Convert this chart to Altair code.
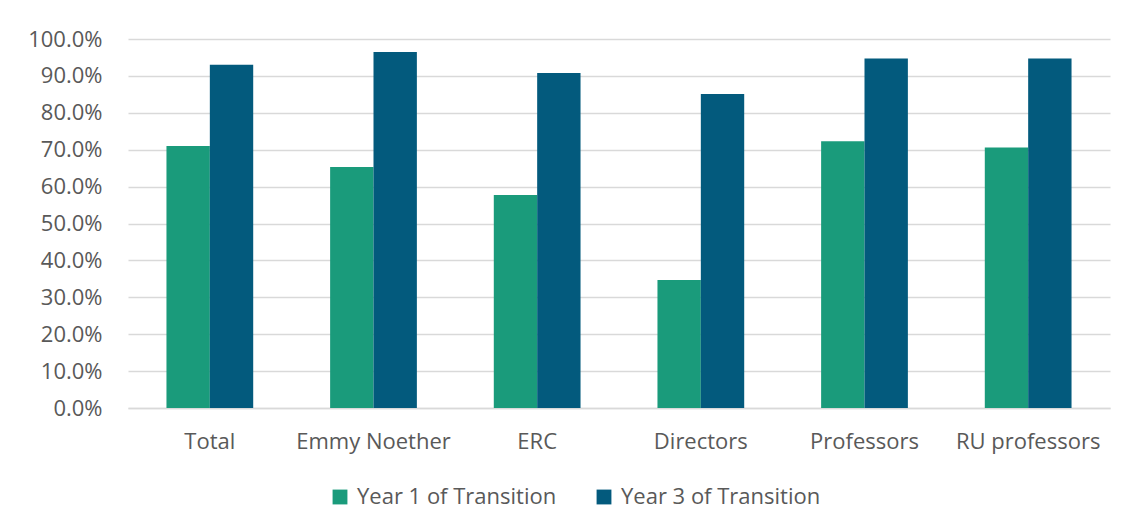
import altair as alt
import pandas as pd

categories = ["Total", "Emmy Noether", "ERC", "Directors", "Professors", "RU professors"]
series = ["Year 1 of Transition", "Year 3 of Transition"]
year1 = [0.710, 0.653, 0.577, 0.347, 0.723, 0.706]
year3 = [0.930, 0.965, 0.908, 0.851, 0.947, 0.947]
colors = ["#1a9b7b", "#035a7d"]
y_ticks = [i / 10 for i in range(11)]

rows = []
for c, a, b in zip(categories, year1, year3):
    rows.append({"cat": c, "series": series[0], "value": a})
    rows.append({"cat": c, "series": series[1], "value": b})
df = pd.DataFrame(rows)

FONT = "Open Sans"
TXT = "#595959"
FS = 22

chart = alt.Chart(df).mark_bar().encode(
    x=alt.X("cat:N", sort=categories, title=None,
            scale=alt.Scale(paddingInner=0.47, paddingOuter=0.235),
            axis=alt.Axis(labelAngle=0, ticks=False, domainColor="#d9d9d9", domainWidth=1.5,
                          labelFontSize=FS, labelColor=TXT, labelFont=FONT, labelPadding=23,
                          labelLimit=300)),
    xOffset=alt.XOffset("series:N", sort=series),
    y=alt.Y("value:Q", title=None, scale=alt.Scale(domain=[0, 1], nice=False),
            axis=alt.Axis(values=y_ticks, format=".1%", ticks=False, domain=False,
                          gridColor="#d9d9d9", gridWidth=1.5,
                          labelFontSize=FS, labelColor=TXT, labelFont=FONT, labelPadding=26)),
    color=alt.Color("series:N", sort=series,
                    scale=alt.Scale(domain=series, range=colors),
                    legend=alt.Legend(title=None, orient="none", legendX=201, legendY=447,
                                      direction="horizontal", symbolType="square",
                                      symbolSize=220, symbolStrokeWidth=0,
                                      labelFontSize=FS, labelColor=TXT, labelFont=FONT,
                                      labelOffset=6, columnPadding=36, labelLimit=400)),
).properties(
    width=982, height=369,
    background="white",
    autosize=alt.AutoSizeParams(type="none"),
    padding={"left": 120, "top": 31, "right": 14, "bottom": 108},
).configure_view(stroke=None, strokeWidth=0)

chart.save("out.html", embed_options={"renderer": "svg", "actions": False})
